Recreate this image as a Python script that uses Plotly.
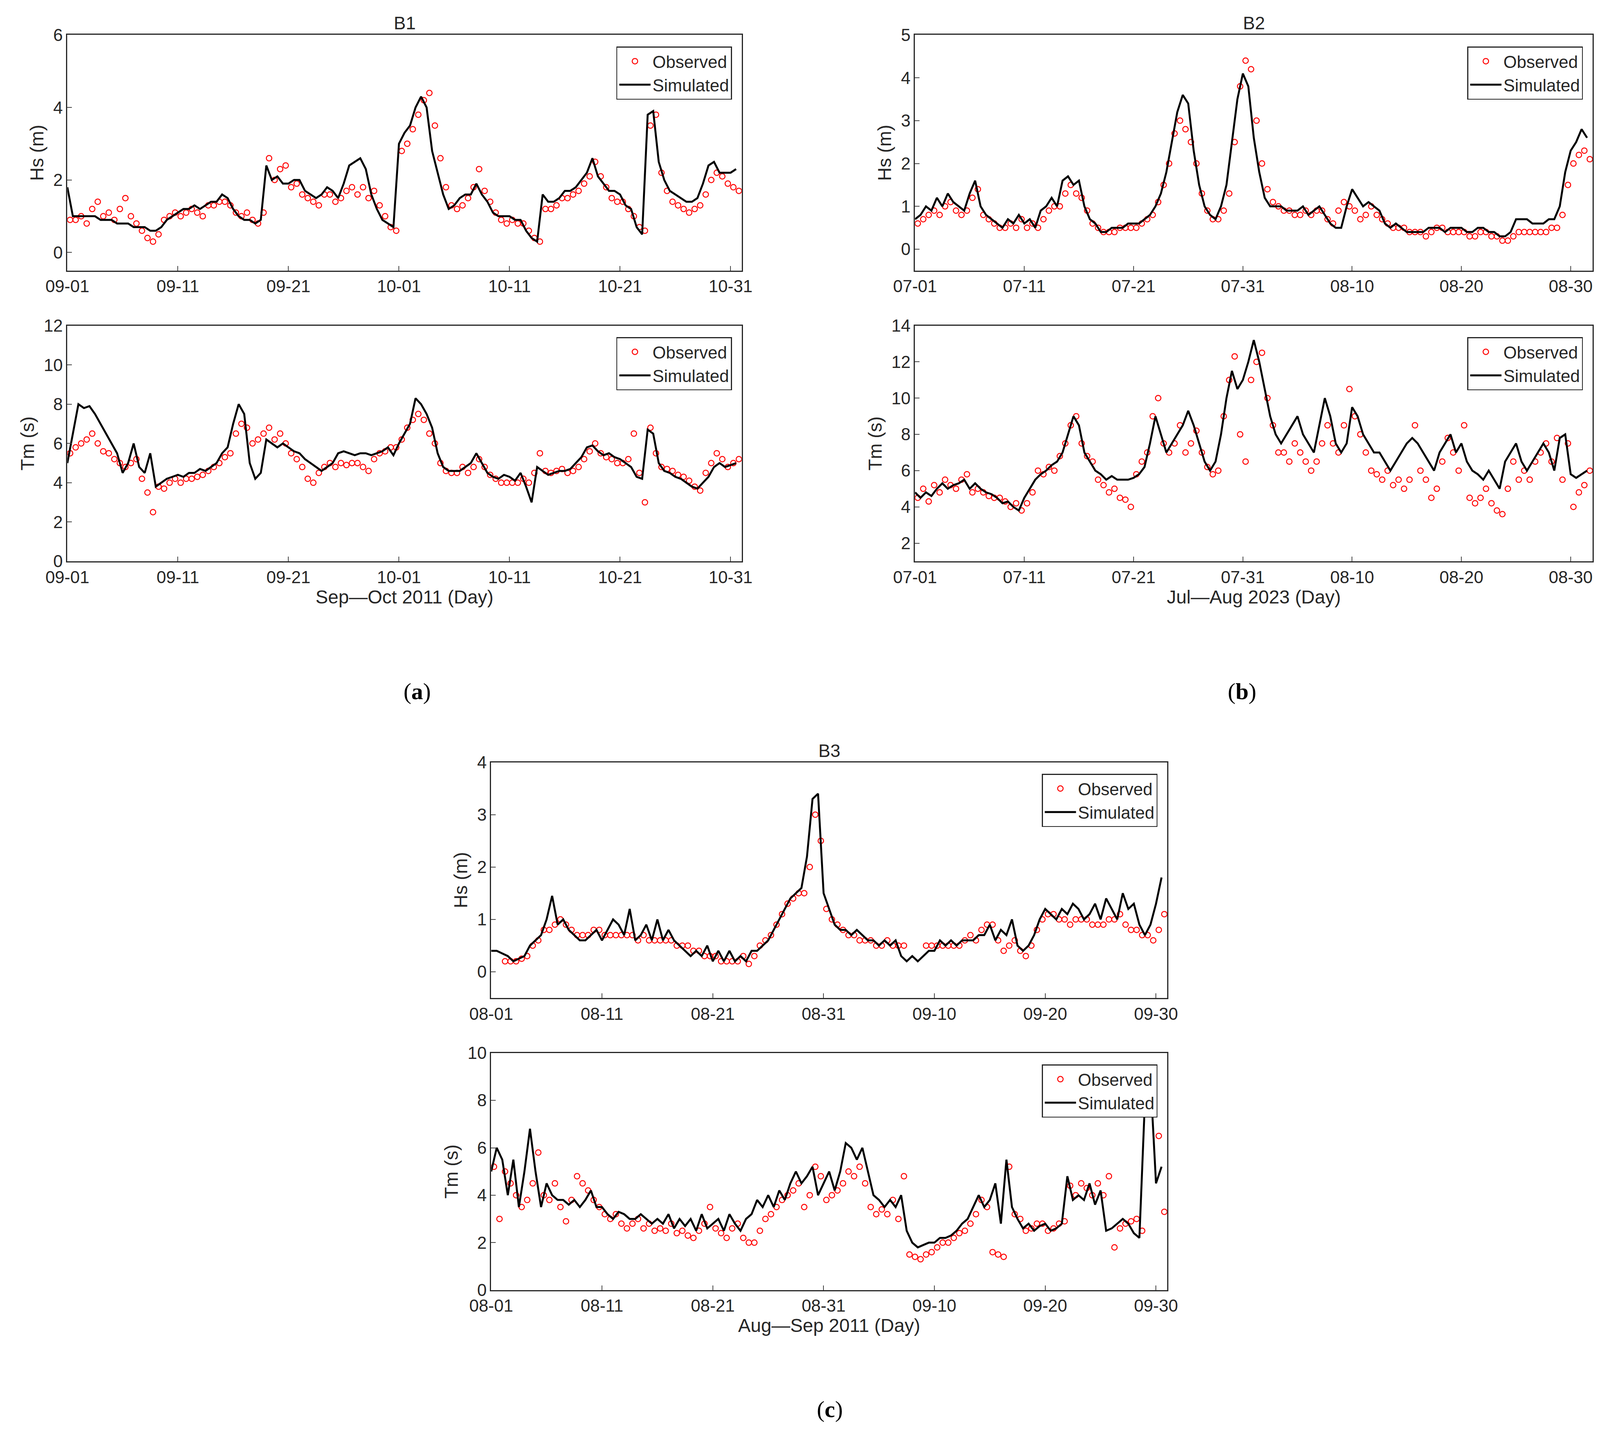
import pandas as pd
import plotly.graph_objects as go

# ---- data (12-hourly readings) ----
b1_hs_sim = [1.8,1.0,1.0,1.0,1.0,1.0,0.9,0.9,0.9,0.8, 0.8,0.8,0.7,0.7,0.7,0.6,0.6,0.7,0.9,1.0,
             1.1,1.2,1.2,1.3,1.2,1.3,1.4,1.4,1.6,1.5, 1.2,1.0,0.9,0.9,0.8,0.9,2.4,2.0,2.1,1.9,
             1.9,2.0,2.0,1.7,1.6,1.5,1.6,1.8,1.7,1.5, 1.9,2.4,2.5,2.6,2.3,1.6,1.2,0.9,0.8,0.7,
             3.0,3.3,3.5,4.0,4.3,4.0,2.8,2.2,1.6,1.2, 1.3,1.5,1.6,1.6,1.9,1.6,1.4,1.1,1.0,1.0,
             1.0,0.9,0.9,0.6,0.4,0.3,1.6,1.4,1.4,1.5, 1.7,1.7,1.8,2.0,2.2,2.6,2.1,1.9,1.7,1.7,
             1.6,1.3,1.2,0.7,0.5,3.8,3.9,2.5,2.0,1.7, 1.6,1.5,1.4,1.4,1.5,1.9,2.4,2.5,2.2,2.2, 2.2,2.3]
b1_hs_obs = [0.9,0.9,1.0,0.8,1.2,1.4,1.0,1.1,0.9,1.2, 1.5,1.0,0.8,0.6,0.4,0.3,0.5,0.9,1.0,1.1,
             1.0,1.1,1.2,1.1,1.0,1.3,1.3,1.4,1.4,1.3, 1.1,1.0,1.1,0.9,0.8,1.1,2.6,2.0,2.3,2.4,
             1.8,1.9,1.6,1.5,1.4,1.3,1.6,1.6,1.4,1.5, 1.7,1.8,1.6,1.8,1.5,1.7,1.3,1.0,0.7,0.6,
             2.8,3.0,3.4,3.8,4.2,4.4,3.5,2.6,1.8,1.3, 1.2,1.3,1.5,1.8,2.3,1.7,1.4,1.1,0.9,0.8,
             0.9,0.8,0.8,0.6,0.4,0.3,1.2,1.2,1.3,1.5, 1.5,1.6,1.7,1.9,2.1,2.5,2.1,1.8,1.5,1.4,
             1.4,1.2,1.0,0.7,0.6,3.5,3.8,2.2,1.7,1.4, 1.3,1.2,1.1,1.2,1.3,1.6,2.0,2.2,2.1,1.9, 1.8,1.7]
b1_tm_sim = [5.0,6.5,8.0,7.8,7.9,7.5,7.0,6.5,6.0,5.5, 4.5,5.0,6.0,4.8,4.5,5.5,3.8,4.0,4.2,4.3,
             4.4,4.3,4.5,4.5,4.7,4.6,4.8,5.0,5.5,5.8, 7.0,8.0,7.5,5.0,4.2,4.5,6.2,6.0,5.8,6.0,
             5.8,5.6,5.5,5.2,5.0,4.8,4.6,4.8,5.0,5.5, 5.6,5.5,5.4,5.5,5.5,5.4,5.5,5.6,5.8,5.4,
             6.0,6.5,7.0,8.3,8.0,7.5,6.8,5.5,4.8,4.6, 4.6,4.6,4.8,5.0,5.5,5.0,4.5,4.3,4.2,4.4,
             4.3,4.1,4.5,3.8,3.0,4.8,4.6,4.4,4.5,4.6, 4.6,4.7,5.0,5.3,5.8,5.9,5.6,5.4,5.5,5.3,
             5.2,5.0,4.8,4.3,4.2,6.7,6.5,5.0,4.6,4.5, 4.3,4.2,4.0,3.8,3.7,4.0,4.3,4.8,5.0,4.8, 4.9,5.0]
b1_tm_obs = [5.5,5.8,6.0,6.2,6.5,6.0,5.6,5.5,5.2,5.0, 4.8,5.0,5.2,4.2,3.5,2.5,3.8,3.7,4.0,4.2,
             4.0,4.2,4.2,4.3,4.4,4.6,4.8,5.0,5.3,5.5, 6.5,7.0,6.8,6.0,6.2,6.5,6.8,6.2,6.5,6.0,
             5.5,5.2,4.8,4.2,4.0,4.5,4.8,5.0,4.8,5.0, 4.9,5.0,5.0,4.8,4.6,5.2,5.5,5.6,5.8,5.8,
             6.2,6.8,7.2,7.5,7.2,6.5,6.0,5.0,4.6,4.5, 4.5,4.8,4.5,4.8,5.2,4.8,4.4,4.2,4.0,4.0,
             4.0,4.0,4.2,4.0,4.5,5.5,4.6,4.5,4.6,4.7, 4.5,4.6,4.8,5.2,5.6,6.0,5.5,5.3,5.2,5.0,
             5.0,5.2,6.5,4.5,3.0,6.8,5.5,4.8,4.7,4.6, 4.4,4.3,4.1,3.8,3.6,4.5,5.0,5.5,5.2,4.8, 5.0,5.2]

b2_hs_sim = [0.7,0.8,1.0,0.9,1.2,1.0,1.3,1.1,1.0,0.9, 1.3,1.6,1.0,0.8,0.7,0.6,0.5,0.7,0.6,0.8,
             0.6,0.7,0.5,0.9,1.0,1.2,1.0,1.6,1.7,1.5, 1.6,1.0,0.7,0.6,0.4,0.4,0.5,0.5,0.5,0.6,
             0.6,0.6,0.7,0.8,1.0,1.3,1.8,2.5,3.2,3.6, 3.4,2.3,1.5,1.0,0.8,0.7,1.0,1.5,2.5,3.5,
             4.1,3.8,2.6,1.8,1.2,1.0,1.0,1.0,0.9,0.9, 0.9,1.0,0.8,0.9,1.0,0.8,0.6,0.5,0.5,1.0,
             1.4,1.2,1.0,1.1,1.0,0.9,0.6,0.5,0.6,0.5, 0.4,0.4,0.4,0.4,0.5,0.5,0.5,0.4,0.5,0.5,
             0.5,0.4,0.4,0.5,0.5,0.4,0.4,0.3,0.3,0.4, 0.7,0.7,0.7,0.6,0.6,0.6,0.7,0.7,1.0,1.8, 2.3,2.5,2.8,2.6]
b2_hs_obs = [0.6,0.7,0.8,0.9,0.8,1.0,1.1,0.9,0.8,0.9, 1.2,1.4,0.8,0.7,0.6,0.5,0.5,0.6,0.5,0.7,
             0.5,0.6,0.5,0.7,0.9,1.0,1.0,1.3,1.5,1.3, 1.2,0.9,0.6,0.5,0.4,0.4,0.4,0.5,0.5,0.5,
             0.5,0.6,0.7,0.8,1.1,1.5,2.0,2.7,3.0,2.8, 2.5,2.0,1.3,0.9,0.7,0.7,0.9,1.3,2.5,3.8,
             4.4,4.2,3.0,2.0,1.4,1.1,1.0,0.9,0.9,0.8, 0.8,0.9,0.8,0.9,0.9,0.7,0.6,0.9,1.1,1.0,
             0.9,0.7,0.8,1.0,0.8,0.7,0.6,0.5,0.5,0.5, 0.4,0.4,0.4,0.3,0.4,0.5,0.5,0.4,0.4,0.4,
             0.4,0.3,0.3,0.4,0.4,0.3,0.3,0.2,0.2,0.3, 0.4,0.4,0.4,0.4,0.4,0.4,0.5,0.5,0.8,1.5, 2.0,2.2,2.3,2.1]
b2_tm_sim = [4.8,4.5,4.8,4.6,5.0,5.3,5.0,5.2,5.3,5.5, 5.0,5.3,5.0,4.8,4.7,4.5,4.2,4.3,4.0,3.8,
             4.5,5.0,5.5,5.8,6.0,6.3,6.5,7.0,8.0,9.0, 8.5,7.0,6.5,6.0,5.8,5.5,5.7,5.5,5.5,5.5,
             5.6,5.8,6.2,7.5,9.0,8.0,7.0,7.5,8.0,8.5, 9.3,8.5,7.5,6.5,6.0,6.5,8.0,10.0,11.5,10.5,
             11.0,12.0,13.2,12.0,10.5,9.0,8.0,7.5,8.0,8.5, 9.0,8.0,7.5,7.0,8.5,10.0,9.0,7.5,7.0,7.5,
             9.5,9.0,8.0,7.5,7.0,7.0,6.5,6.0,6.5,7.0, 7.5,7.8,7.5,7.0,6.5,6.0,7.0,7.5,8.0,7.0,
             7.5,6.5,6.0,5.8,5.5,6.0,5.5,5.0,6.5,7.0, 7.5,6.5,6.0,6.5,7.0,7.5,7.0,6.0,7.8,8.0, 5.8,5.6,5.8,6.0]
b2_tm_obs = [4.5,5.0,4.3,5.2,4.8,5.5,5.2,5.0,5.5,5.8, 4.8,5.0,4.8,4.6,4.5,4.5,4.3,4.0,4.2,3.8,
             4.2,4.8,6.0,5.8,6.2,6.0,6.8,7.5,8.5,9.0, 7.5,6.8,6.5,5.5,5.2,4.8,5.0,4.5,4.4,4.0,
             5.8,6.5,7.0,9.0,10.0,7.5,7.0,7.5,8.5,7.0, 7.5,8.2,7.0,6.2,5.8,6.0,9.0,11.0,12.3,8.0,
             6.5,11.0,12.0,12.5,10.0,8.5,7.0,7.0,6.5,7.5, 7.0,6.5,6.0,6.5,7.5,8.5,7.5,7.0,8.5,10.5,
             9.0,8.0,7.0,6.0,5.8,5.5,6.0,5.2,5.5,5.0, 5.5,8.5,6.0,5.5,4.5,5.0,6.5,7.8,7.0,6.0,
             8.5,4.5,4.2,4.5,5.0,4.2,3.8,3.6,5.0,6.5, 5.5,6.0,5.5,6.5,7.0,7.5,6.5,7.8,5.5,7.5, 4.0,4.8,5.2,6.0]

b3_hs_sim = [0.4,0.4,0.35,0.3,0.2,0.25,0.3,0.5,0.6,0.7, 1.0,1.45,0.9,1.0,0.8,0.7,0.6,0.6,0.7,0.8,
             0.6,0.8,1.0,0.9,0.7,1.2,0.6,0.7,0.9,0.6, 1.0,0.6,0.8,0.6,0.5,0.4,0.3,0.4,0.3,0.5,
             0.2,0.4,0.2,0.4,0.2,0.3,0.2,0.4,0.4,0.5, 0.6,0.8,1.0,1.2,1.4,1.5,1.6,2.2,3.3,3.4,
             1.5,1.2,0.9,0.8,0.8,0.7,0.8,0.7,0.6,0.6, 0.5,0.6,0.5,0.6,0.3,0.2,0.3,0.2,0.3,0.4,
             0.4,0.6,0.5,0.6,0.5,0.6,0.6,0.6,0.7,0.7, 0.9,0.6,0.8,0.7,1.0,0.5,0.4,0.5,0.7,1.0,
             1.2,1.1,1.0,1.2,1.1,1.3,1.2,1.0,1.1,1.3, 1.0,1.4,1.2,1.0,1.5,1.2,1.3,0.9,0.7,0.9, 1.3,1.8]
b3_hs_obs = [None,None,0.2,0.2,0.2,0.25,0.3,0.5,0.6,0.8, 0.8,0.9,1.0,0.9,0.8,0.7,0.7,0.7,0.8,0.8,
             0.7,0.7,0.7,0.7,0.7,0.7,0.6,0.7,0.6,0.6, 0.6,0.6,0.6,0.5,0.5,0.5,0.4,0.4,0.3,0.3,
             0.3,0.2,0.2,0.2,0.2,0.3,0.15,0.3,0.5,0.6, 0.7,0.9,1.1,1.3,1.4,1.5,1.5,2.0,3.0,2.5,
             1.2,1.0,0.9,0.8,0.7,0.7,0.6,0.6,0.6,0.5, 0.5,0.6,0.5,0.5,0.5,None,None,None,0.5,0.5,
             0.5,0.5,0.5,0.5,0.5,0.6,0.7,0.6,0.8,0.9, 0.9,0.6,0.4,0.5,0.6,0.4,0.3,0.5,0.8,1.0,
             1.1,1.1,1.0,1.0,0.9,1.0,1.0,1.0,0.9,0.9, 0.9,1.0,1.0,1.1,0.9,0.8,0.8,0.7,0.7,0.6, 0.8,1.1]
b3_tm_sim = [5.0,6.0,5.5,4.0,5.5,3.5,5.0,6.8,5.0,3.5, 4.5,4.0,3.8,3.8,3.6,3.8,3.5,3.8,4.2,3.5,
             3.5,3.2,3.0,3.3,3.2,3.0,3.0,3.2,3.0,2.8, 3.0,2.8,3.2,2.6,3.0,2.7,3.0,2.5,3.2,2.6,
             2.8,3.0,2.5,3.2,2.8,2.5,3.0,3.2,3.8,3.5, 4.0,3.5,4.2,3.8,4.5,5.0,4.5,4.8,5.2,4.0,
             4.5,5.0,4.2,5.0,6.2,6.0,5.5,6.0,5.0,4.0, 3.8,3.5,3.8,3.5,4.0,2.5,2.0,1.8,1.9,2.0,
             2.0,2.2,2.2,2.3,2.5,2.8,3.0,3.5,4.0,3.5, 3.8,4.5,2.8,5.5,3.5,3.0,2.6,2.8,2.5,2.7,
             2.8,2.5,2.6,2.8,4.8,3.8,4.0,3.8,4.5,3.6, 4.2,2.5,2.6,2.8,3.0,2.8,2.4,2.2,8.0,8.9, 4.5,5.2]
b3_tm_obs = [5.2,3.0,5.0,4.5,4.0,3.5,3.8,4.5,5.8,4.0, 3.8,4.5,3.5,2.9,3.8,4.8,4.5,4.2,3.8,3.5,
             3.2,3.0,3.2,2.8,2.6,2.8,3.0,2.6,2.8,2.5, 2.6,2.5,2.8,2.4,2.5,2.3,2.2,2.5,2.8,3.5,
             2.6,2.4,2.2,2.6,2.8,2.2,2.0,2.0,2.5,3.0, 3.2,3.5,3.8,4.0,4.2,4.5,3.5,4.0,5.2,4.8,
             3.8,4.0,4.2,4.5,5.0,4.8,5.2,4.5,3.5,3.2, 3.4,3.2,3.8,3.0,4.8,1.5,1.4,1.3,1.5,1.6,
             1.8,2.0,2.0,2.2,2.4,2.5,2.8,3.2,3.8,3.5, 1.6,1.5,1.4,5.2,3.2,3.0,2.5,2.6,2.8,2.8,
             2.5,2.6,2.8,2.9,4.4,4.0,4.5,4.3,4.0,4.5, 4.0,4.8,1.8,2.6,2.8,2.9,3.0,2.5,8.5,7.5, 6.5,3.3]

FONT = "Liberation Sans, Arial, sans-serif"
DAY_MS = 86400000
fig = go.Figure()

# (start, end, sim, obs, ytitle, yrange, ydtick, xdomain, ydomain, xtitle, title)
panels = [
    ("2011-09-01", "2011-11-01", b1_hs_sim, b1_hs_obs, "Hs (m)", [-0.5, 6], 2, [0.040, 0.460], [0.815, 0.978], None, "B1"),
    ("2011-09-01", "2011-11-01", b1_tm_sim, b1_tm_obs, "Tm (s)", [0, 12], 2, [0.040, 0.460], [0.614, 0.777], "Sep\u2014Oct 2011 (Day)", None),
    ("2023-07-01", "2023-09-01", b2_hs_sim, b2_hs_obs, "Hs (m)", [-0.5, 5], 1, [0.568, 0.990], [0.815, 0.978], None, "B2"),
    ("2023-07-01", "2023-09-01", b2_tm_sim, b2_tm_obs, "Tm (s)", [1, 14], 2, [0.568, 0.990], [0.614, 0.777], "Jul\u2014Aug 2023 (Day)", None),
    ("2011-08-01", "2011-10-01", b3_hs_sim, b3_hs_obs, "Hs (m)", [-0.5, 4], 1, [0.304, 0.725], [0.312, 0.475], None, "B3"),
    ("2011-08-01", "2011-10-01", b3_tm_sim, b3_tm_obs, "Tm (s)", [0, 10], 2, [0.304, 0.725], [0.110, 0.274], "Aug\u2014Sep 2011 (Day)", None),
]

for i, (start, end, sim, obs, ytit, yr, dt, xd, yd, xtit, title) in enumerate(panels, 1):
    sfx = "" if i == 1 else str(i)
    leg = "legend" + sfx
    t_sim = pd.date_range(start, periods=len(sim), freq="12h")
    t_obs = t_sim + pd.Timedelta(hours=6)
    fig.add_trace(go.Scatter(x=t_obs, y=obs, mode="markers", name="Observed",
                             marker=dict(symbol="circle-open", color="#ff0000", size=14, line=dict(width=2.5)),
                             xaxis="x" + sfx, yaxis="y" + sfx, legend=leg))
    fig.add_trace(go.Scatter(x=t_sim, y=sim, mode="lines", name="Simulated",
                             line=dict(color="black", width=5),
                             xaxis="x" + sfx, yaxis="y" + sfx, legend=leg))
    fig.layout["xaxis" + sfx] = dict(
        domain=xd, anchor="y" + sfx, range=[start, end], type="date", automargin=False,
        tick0=start, dtick=10 * DAY_MS,
        tickformat="%m-%d", ticks="inside", ticklen=12, tickwidth=2,
        showline=True, linecolor="#262626", linewidth=2.5, mirror=True, showgrid=False,
        tickfont=dict(size=44, color="#262626"),
        title=dict(text=xtit, font=dict(size=48, color="#262626"), standoff=8) if xtit else None)
    fig.layout["yaxis" + sfx] = dict(
        domain=yd, anchor="x" + sfx, range=yr, dtick=dt, tick0=0, automargin=False,
        ticks="inside", ticklen=12, tickwidth=2,
        showline=True, linecolor="#262626", linewidth=2.5, mirror=True, showgrid=False, zeroline=False,
        tickfont=dict(size=44, color="#262626"),
        title=dict(text=ytit, font=dict(size=48, color="#262626"), standoff=10))
    fig.layout[leg] = dict(x=xd[1] - 0.006, y=yd[1] - 0.008, xanchor="right", yanchor="top",
                           bgcolor="white", bordercolor="#262626", borderwidth=2.5,
                           font=dict(size=44, color="#262626"), itemwidth=80)
    if title:
        fig.add_annotation(text=title, x=(xd[0] + xd[1]) / 2, y=yd[1], xref="paper", yref="paper",
                           xanchor="center", yanchor="bottom", showarrow=False, yshift=2,
                           font=dict(size=46, color="#262626"))

for lbl, x, y in [("a", 0.249, 0.524), ("b", 0.781, 0.524), ("c", 0.515, 0.018)]:
    fig.add_annotation(text="(<b>" + lbl + "</b>)", x=x, y=y, xref="paper", yref="paper",
                       showarrow=False, font=dict(size=60, family="Liberation Serif, Times New Roman, serif", color="black"))

fig.update_layout(width=4110, height=3702, plot_bgcolor="white", paper_bgcolor="white",
                  font=dict(family=FONT), margin=dict(l=0, r=0, t=0, b=0))
fig.write_html("out.html")
